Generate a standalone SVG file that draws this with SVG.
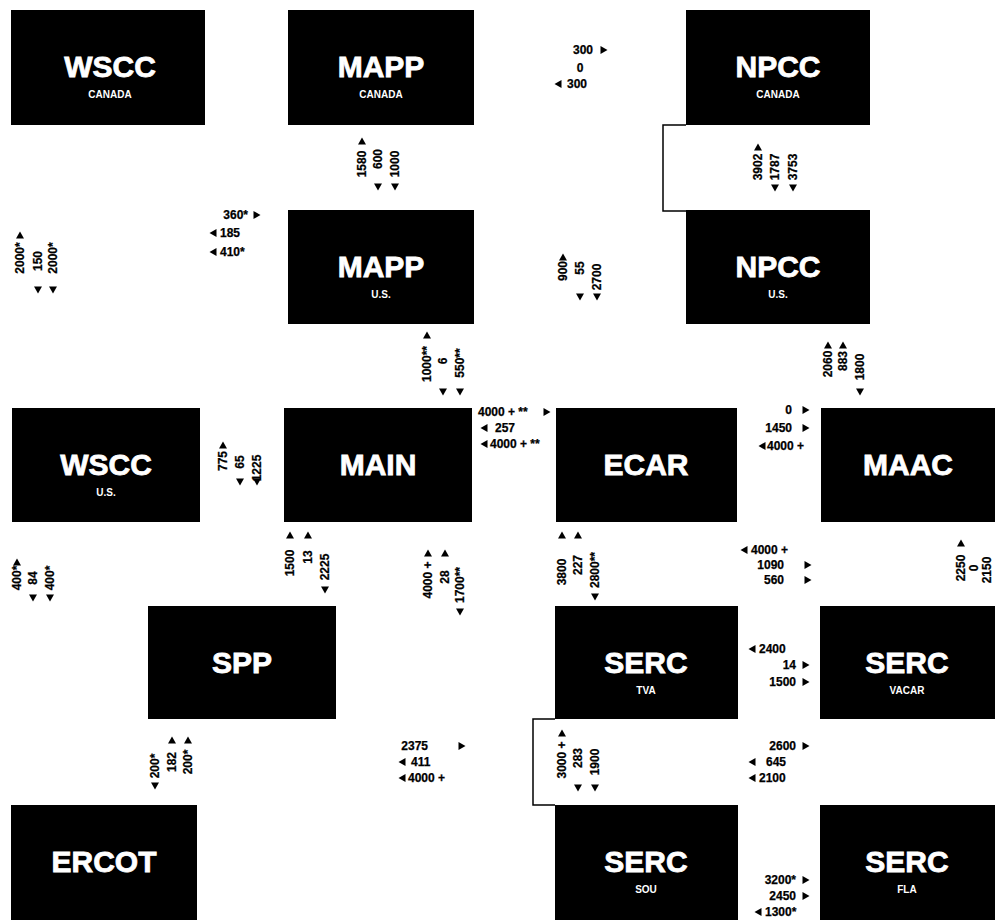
<svg xmlns="http://www.w3.org/2000/svg" xmlns:xlink="http://www.w3.org/1999/xlink" width="995" height="920" viewBox="0 0 995 920">
<style>
.box{fill:#000}
.t{font-family:"Liberation Sans",Arial,sans-serif;font-weight:bold;fill:#fff;font-size:30px;text-anchor:middle;stroke:#fff;stroke-width:0.8}
.s{font-family:"Liberation Sans",Arial,sans-serif;font-weight:bold;fill:#fff;font-size:10px;text-anchor:middle}
.n{font-family:"Liberation Sans",Arial,sans-serif;font-weight:bold;font-size:12px;fill:#000;stroke:#000;stroke-width:0.25}
.c{text-anchor:middle}
.e{text-anchor:end}
.br{fill:none;stroke:#000;stroke-width:1.5}
</style>
<defs>
<path id="up" d="M0,-3.5 L4,3.5 L-4,3.5Z"/>
<path id="dn" d="M0,3.5 L4,-3.5 L-4,-3.5Z"/>
<path id="rt" d="M-3.5,-4 L3.5,0 L-3.5,4Z"/>
<path id="lt" d="M3.5,-4 L-3.5,0 L3.5,4Z"/>
</defs>
<rect width="995" height="920" fill="#fff"/>

<g id="wscc-canada"><rect class="box" x="11" y="10" width="194" height="115"/><text class="t" x="110" y="77">WSCC</text><text class="s" x="110" y="98">CANADA</text></g>
<g id="mapp-canada"><rect class="box" x="288" y="10" width="186" height="115"/><text class="t" x="381" y="77">MAPP</text><text class="s" x="381" y="98">CANADA</text></g>
<g id="npcc-canada"><rect class="box" x="686" y="10" width="184" height="115"/><text class="t" x="778" y="77">NPCC</text><text class="s" x="778" y="98">CANADA</text></g>
<g id="mapp-us"><rect class="box" x="288" y="210" width="186" height="114"/><text class="t" x="381" y="277">MAPP</text><text class="s" x="381" y="298">U.S.</text></g>
<g id="npcc-us"><rect class="box" x="686" y="210" width="184" height="114"/><text class="t" x="778" y="277">NPCC</text><text class="s" x="778" y="298">U.S.</text></g>
<g id="wscc-us"><rect class="box" x="12" y="408" width="188" height="114"/><text class="t" x="106" y="475">WSCC</text><text class="s" x="106" y="496">U.S.</text></g>
<g id="main"><rect class="box" x="284" y="408" width="188" height="114"/><text class="t" x="378" y="475">MAIN</text></g>
<g id="ecar"><rect class="box" x="556" y="408" width="181" height="114"/><text class="t" x="646" y="475">ECAR</text></g>
<g id="maac"><rect class="box" x="821" y="408" width="174" height="114"/><text class="t" x="908" y="475">MAAC</text></g>
<g id="spp"><rect class="box" x="148" y="606" width="188" height="113"/><text class="t" x="242" y="673">SPP</text></g>
<g id="serc-tva"><rect class="box" x="555" y="606" width="183" height="113"/><text class="t" x="646" y="673">SERC</text><text class="s" x="646" y="694">TVA</text></g>
<g id="serc-vacar"><rect class="box" x="820" y="606" width="175" height="113"/><text class="t" x="907" y="673">SERC</text><text class="s" x="907" y="694">VACAR</text></g>
<g id="ercot"><rect class="box" x="11" y="805" width="186" height="115"/><text class="t" x="104" y="872">ERCOT</text></g>
<g id="serc-sou"><rect class="box" x="555" y="805" width="183" height="115"/><text class="t" x="646" y="872">SERC</text><text class="s" x="646" y="893">SOU</text></g>
<g id="serc-fla"><rect class="box" x="820" y="805" width="175" height="115"/><text class="t" x="907" y="872">SERC</text><text class="s" x="907" y="893">FLA</text></g>

<g id="connectors">
<path class="br" d="M686,125 H663 V211 H686"/>
<path class="br" d="M555,719 H533 V805 H555"/>
</g>

<g id="flows">
<g><text class="n e" x="593" y="54">300</text><use href="#rt" x="604" y="50"/><text class="n c" x="580" y="72">0</text><use href="#lt" x="558" y="84"/><text class="n" x="567" y="88">300</text></g>
<g><use href="#up" x="362" y="141"/><text class="n c" transform="translate(366,164) rotate(-90)">1580</text><text class="n c" transform="translate(382,159) rotate(-90)">600</text><text class="n c" transform="translate(399,164) rotate(-90)">1000</text><use href="#dn" x="378" y="187"/><use href="#dn" x="395" y="187"/></g>
<g><use href="#up" x="758" y="147"/><text class="n c" transform="translate(762,167) rotate(-90)">3902</text><text class="n c" transform="translate(779,167) rotate(-90)">1787</text><text class="n c" transform="translate(797,167) rotate(-90)">3753</text><use href="#dn" x="775" y="188"/><use href="#dn" x="793" y="188"/></g>
<g><use href="#up" x="20" y="235"/><text class="n c" transform="translate(24,258) rotate(-90)">2000*</text><text class="n c" transform="translate(42,261) rotate(-90)">150</text><text class="n c" transform="translate(57,258) rotate(-90)">2000*</text><use href="#dn" x="38" y="290"/><use href="#dn" x="53" y="290"/></g>
<g><text class="n e" x="248" y="219">360*</text><use href="#rt" x="257" y="215"/><use href="#lt" x="213" y="233"/><text class="n" x="220" y="237">185</text><use href="#lt" x="213" y="252"/><text class="n" x="220" y="256">410*</text></g>
<g><use href="#up" x="563" y="257"/><text class="n c" transform="translate(567,271) rotate(-90)">900</text><text class="n c" transform="translate(584,268) rotate(-90)">55</text><text class="n c" transform="translate(601,277) rotate(-90)">2700</text><use href="#dn" x="580" y="297"/><use href="#dn" x="597" y="297"/></g>
<g><use href="#up" x="427" y="335"/><text class="n c" transform="translate(431,364) rotate(-90)">1000**</text><text class="n c" transform="translate(447,361) rotate(-90)">6</text><text class="n c" transform="translate(464,363) rotate(-90)">550**</text><use href="#dn" x="443" y="392"/><use href="#dn" x="460" y="392"/></g>
<g><use href="#up" x="828" y="345"/><use href="#up" x="843" y="345"/><text class="n c" transform="translate(832,364) rotate(-90)">2060</text><text class="n c" transform="translate(847,361) rotate(-90)">883</text><text class="n c" transform="translate(864,367) rotate(-90)">1800</text><use href="#dn" x="860" y="392"/></g>
<g><text class="n" x="478" y="416">4000 + **</text><use href="#rt" x="547" y="412"/><use href="#lt" x="484" y="428"/><text class="n" x="495" y="432">257</text><use href="#lt" x="484" y="444"/><text class="n" x="490" y="448">4000 + **</text></g>
<g><text class="n e" x="792" y="414">0</text><use href="#rt" x="806" y="410"/><text class="n e" x="792" y="432">1450</text><use href="#rt" x="806" y="428"/><use href="#lt" x="762" y="446"/><text class="n" x="767" y="450">4000 +</text></g>
<g><use href="#up" x="223" y="445"/><text class="n c" transform="translate(227,461) rotate(-90)">775</text><text class="n c" transform="translate(244,462) rotate(-90)">65</text><text class="n c" transform="translate(261,468) rotate(-90)">1225</text><use href="#dn" x="240" y="482"/><use href="#dn" x="257" y="482"/></g>
<g><use href="#up" x="17" y="562"/><text class="n c" transform="translate(21,578) rotate(-90)">400*</text><text class="n c" transform="translate(37,578) rotate(-90)">84</text><text class="n c" transform="translate(54,578) rotate(-90)">400*</text><use href="#dn" x="33" y="598"/><use href="#dn" x="50" y="598"/></g>
<g><use href="#up" x="290" y="535"/><use href="#up" x="308" y="535"/><text class="n c" transform="translate(294,563) rotate(-90)">1500</text><text class="n c" transform="translate(312,557) rotate(-90)">13</text><text class="n c" transform="translate(329,567) rotate(-90)">2225</text><use href="#dn" x="325" y="590"/></g>
<g><use href="#up" x="428" y="553"/><use href="#up" x="445" y="553"/><text class="n c" transform="translate(432,580) rotate(-90)">4000 +</text><text class="n c" transform="translate(449,577) rotate(-90)">28</text><text class="n c" transform="translate(464,585) rotate(-90)">1700**</text><use href="#dn" x="460" y="612"/></g>
<g><use href="#up" x="562" y="535"/><use href="#up" x="578" y="535"/><text class="n c" transform="translate(566,572) rotate(-90)">3800</text><text class="n c" transform="translate(582,565) rotate(-90)">227</text><text class="n c" transform="translate(599,570) rotate(-90)">2800**</text><use href="#dn" x="595" y="597"/></g>
<g><use href="#lt" x="744" y="550"/><text class="n" x="751" y="554">4000 +</text><text class="n e" x="784" y="569">1090</text><use href="#rt" x="808" y="565"/><text class="n e" x="784" y="584">560</text><use href="#rt" x="808" y="580"/></g>
<g><use href="#up" x="961" y="543"/><text class="n c" transform="translate(965,568) rotate(-90)">2250</text><text class="n c" transform="translate(978,568) rotate(-90)">0</text><text class="n c" transform="translate(991,570) rotate(-90)">2150</text></g>
<g><use href="#lt" x="752" y="649"/><text class="n" x="759" y="653">2400</text><text class="n e" x="796" y="669">14</text><use href="#rt" x="806" y="665"/><text class="n e" x="796" y="686">1500</text><use href="#rt" x="806" y="682"/></g>
<g><text class="n e" x="428" y="750">2375</text><use href="#rt" x="462" y="746"/><use href="#lt" x="402" y="762"/><text class="n" x="411" y="766">411</text><use href="#lt" x="402" y="778"/><text class="n" x="408" y="782">4000 +</text></g>
<g><use href="#up" x="562" y="733"/><text class="n c" transform="translate(566,760) rotate(-90)">3000 +</text><text class="n c" transform="translate(582,758) rotate(-90)">283</text><text class="n c" transform="translate(599,762) rotate(-90)">1900</text><use href="#dn" x="578" y="788"/><use href="#dn" x="595" y="788"/></g>
<g><text class="n e" x="796" y="750">2600</text><use href="#rt" x="806" y="746"/><use href="#lt" x="752" y="762"/><text class="n" x="766" y="766">645</text><use href="#lt" x="752" y="778"/><text class="n" x="759" y="782">2100</text></g>
<g><use href="#up" x="172" y="740"/><use href="#up" x="188" y="740"/><text class="n c" transform="translate(159,766) rotate(-90)">200*</text><text class="n c" transform="translate(176,762) rotate(-90)">182</text><text class="n c" transform="translate(192,762) rotate(-90)">200*</text><use href="#dn" x="155" y="786"/></g>
<g><text class="n e" x="796" y="884">3200*</text><use href="#rt" x="806" y="880"/><text class="n e" x="796" y="900">2450</text><use href="#rt" x="806" y="896"/><use href="#lt" x="758" y="912"/><text class="n" x="765" y="916">1300*</text></g>
</g>
</svg>
